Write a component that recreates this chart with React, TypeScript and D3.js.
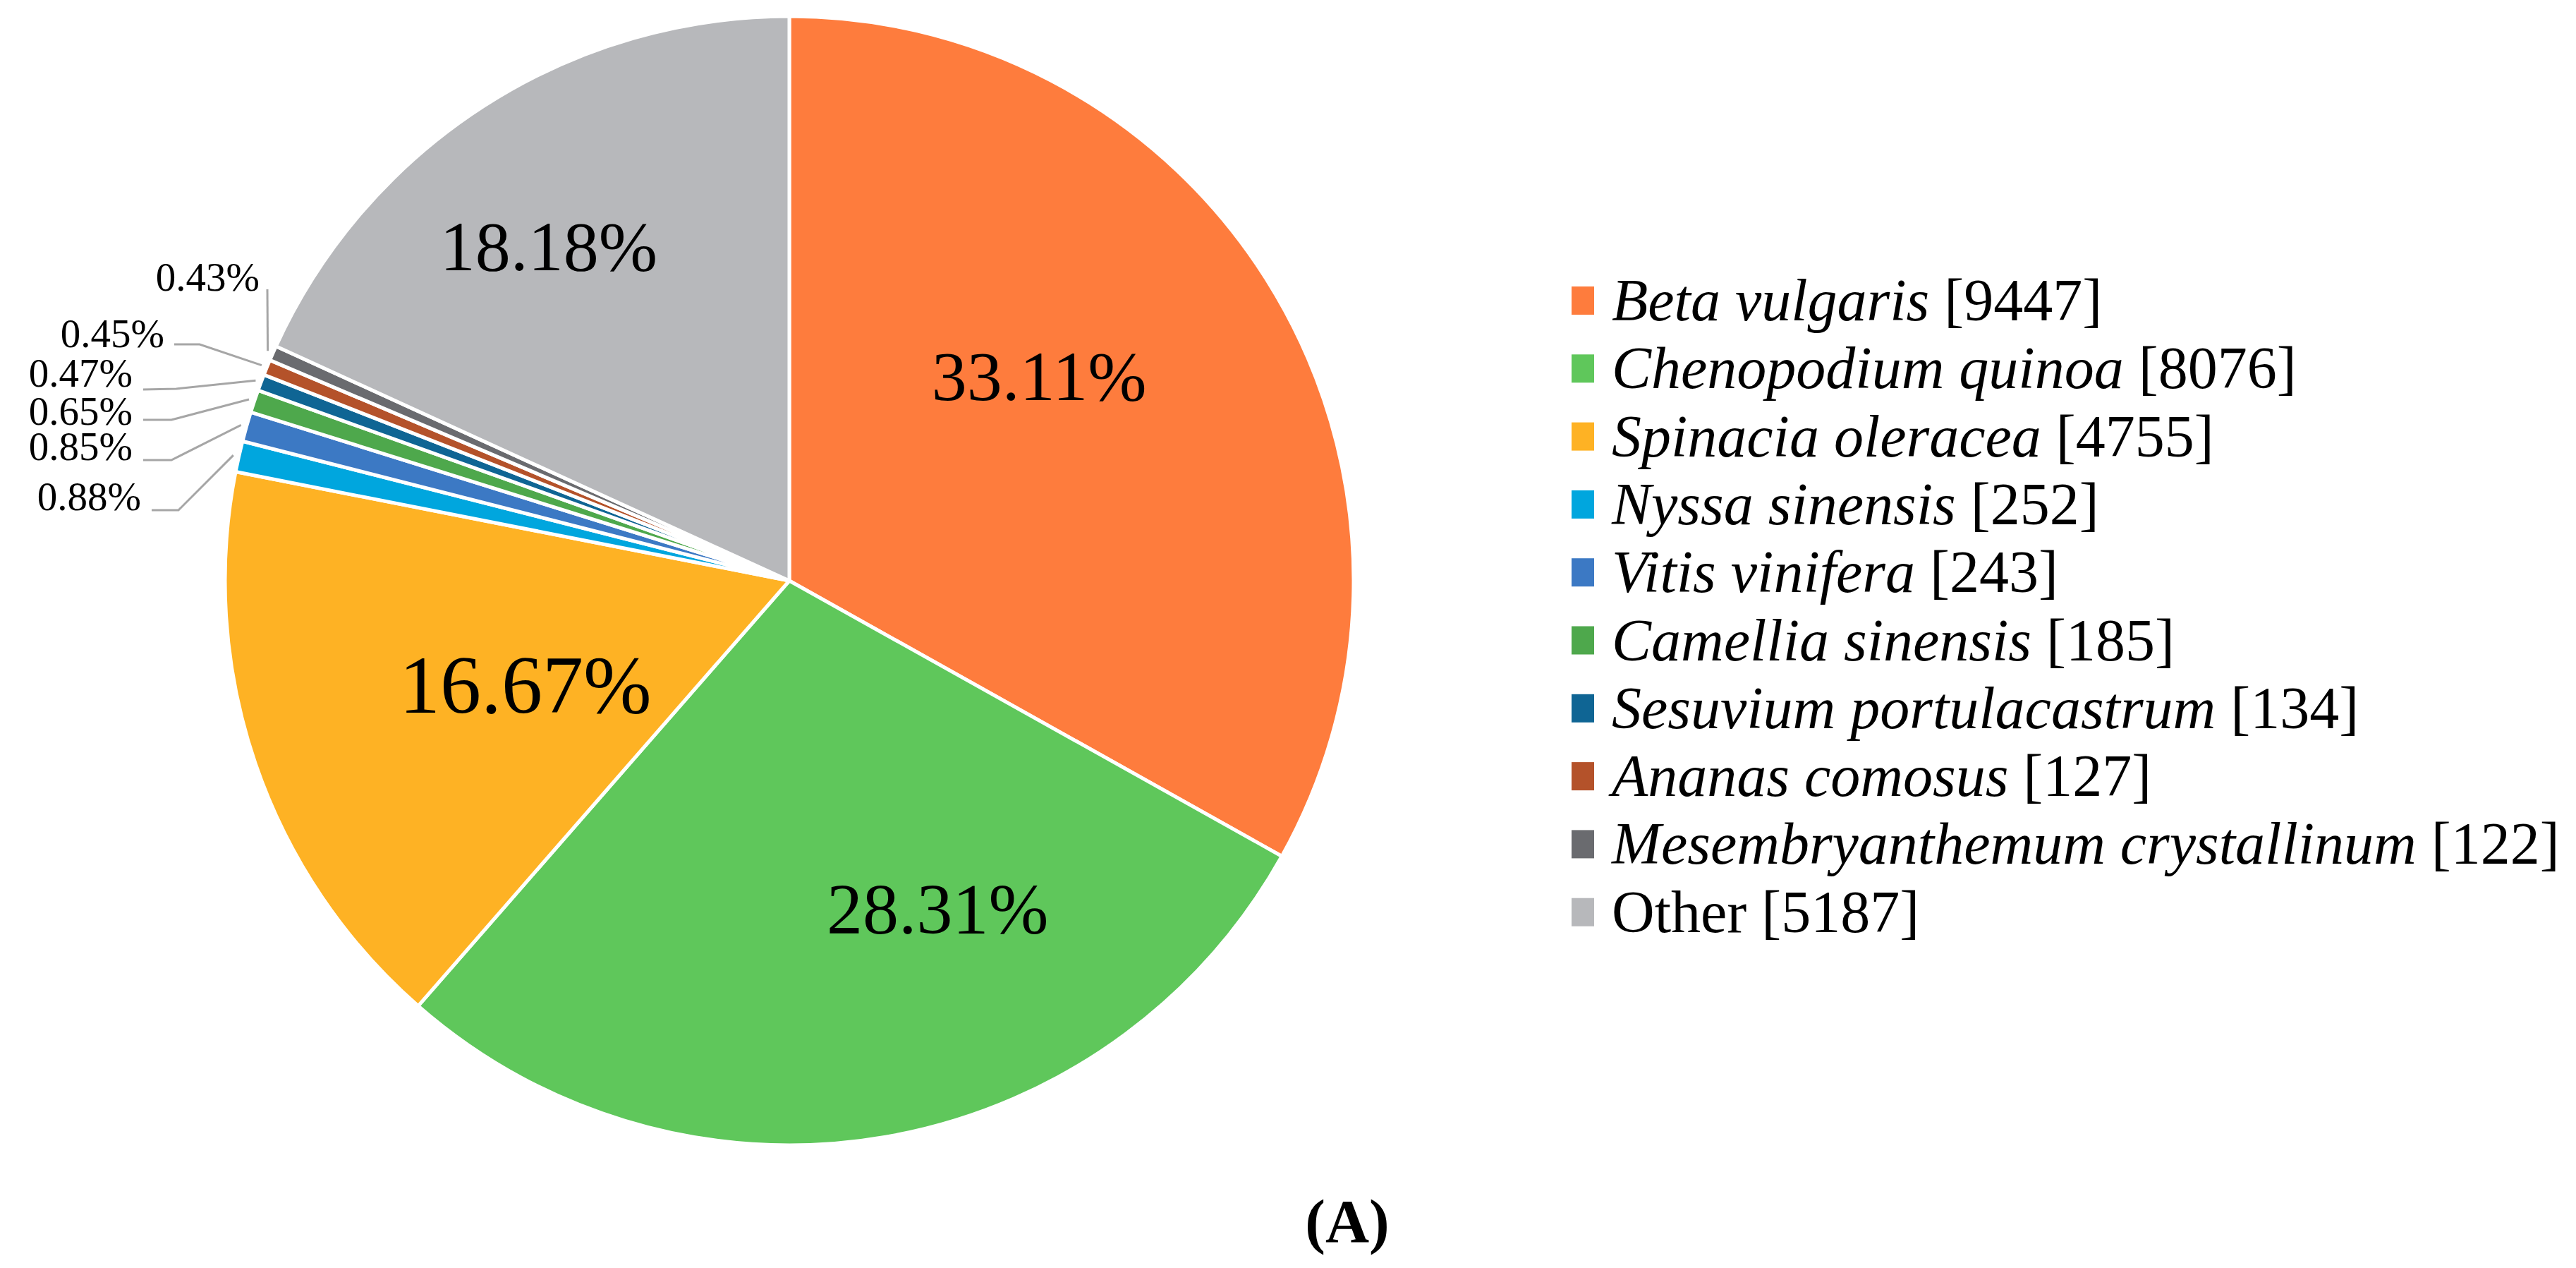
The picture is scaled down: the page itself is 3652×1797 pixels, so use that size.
import React from "react";
import * as d3 from "d3";

// ---- data ----
const categories = [
  "Beta vulgaris",
  "Chenopodium quinoa",
  "Spinacia oleracea",
  "Nyssa sinensis",
  "Vitis vinifera",
  "Camellia sinensis",
  "Sesuvium portulacastrum",
  "Ananas comosus",
  "Mesembryanthemum crystallinum",
  "Other",
];
const counts = [9447, 8076, 4755, 252, 243, 185, 134, 127, 122, 5187];
const italicName = [true, true, true, true, true, true, true, true, true, false];
const colors = [
  "#FE7C3D",
  "#5FC75B",
  "#FEB224",
  "#00A6DE",
  "#3C79C4",
  "#4EA84C",
  "#0F6594",
  "#B4522A",
  "#6A6B6F",
  "#B7B8BB",
];
const figureTag = "(A)";

// ---- layout (not data) ----
const W = 3652;
const H = 1797;
const CX = 1119;
const CY = 823;
const R = 800;
const FONT = '"Liberation Serif", "Times New Roman", Times, serif';

// big labels: radius fraction and angle offset (deg) relative to slice mid angle, font size
const bigLabelLayout: Record<number, { rf: number; da: number; fs: number }> = {
  0: { rf: 0.572, da: -8.9, fs: 100 },
  1: { rf: 0.638, da: -14.5, fs: 102 },
  2: { rf: 0.503, da: -2.7, fs: 116 },
  9: { rf: 0.73, da: -3.0, fs: 100 },
};

// small labels: text end point and leader-line start points
const smallLabelLayout: Record<number, { tx: number; ty: number; pts: [number, number][] }> = {
  3: { tx: 200, ty: 723, pts: [[215, 723], [253, 723]] },
  4: { tx: 188, ty: 652, pts: [[203, 652], [243, 652]] },
  5: { tx: 188, ty: 602, pts: [[203, 595], [243, 595]] },
  6: { tx: 188, ty: 548, pts: [[203, 552], [250, 551]] },
  7: { tx: 233, ty: 492, pts: [[247, 488], [283, 488]] },
  8: { tx: 368, ty: 412, pts: [[379, 410]] },
};

const legendLayout = { sqX: 2228, sqW: 32, sqH: 40, textX: 2285, y0: 454, step: 96.3, fs: 84 };

export default function App() {
  const total = d3.sum(counts);
  const pie = d3
    .pie<number>()
    .sort(null)
    .value((d) => d);
  const arcs = pie(counts);
  const arcGen = d3.arc<d3.PieArcDatum<number>>().innerRadius(0).outerRadius(R);
  const pct = (v: number) => ((v / total) * 100).toFixed(2) + "%";
  const line = d3.line<[number, number]>();

  const polar = (a: number, r: number): [number, number] => [
    CX + r * Math.sin(a),
    CY - r * Math.cos(a),
  ];

  return (
    <svg
      width={W}
      height={H}
      viewBox={`0 0 ${W} ${H}`}
      style={{ position: "absolute", left: 0, top: 0, background: "#fff" }}
      fontFamily={FONT}
    >
      <rect x={0} y={0} width={W} height={H} fill="#fff" />
      <g transform={`translate(${CX},${CY})`}>
        {arcs.map((a, i) => (
          <path key={i} d={arcGen(a) || ""} fill={colors[i]} stroke="#fff" strokeWidth={5} strokeLinejoin="round" />
        ))}
      </g>

      {/* big slice labels */}
      {arcs.map((a, i) => {
        const L = bigLabelLayout[i];
        if (!L) return null;
        const mid = (a.startAngle + a.endAngle) / 2 + (L.da * Math.PI) / 180;
        const [x, y] = polar(mid, L.rf * R);
        return (
          <text key={i} x={x} y={y} dy="0.34em" textAnchor="middle" fontSize={L.fs} fill="#000">
            {pct(counts[i])}
          </text>
        );
      })}

      {/* small slice labels with leader lines */}
      {arcs.map((a, i) => {
        const L = smallLabelLayout[i];
        if (!L) return null;
        const mid = (a.startAngle + a.endAngle) / 2;
        const end = polar(mid, R + 8);
        const pts: [number, number][] = [...L.pts, end];
        return (
          <g key={i}>
            <path d={line(pts) || ""} fill="none" stroke="#A6A6A6" strokeWidth={3} />
            <text x={L.tx} y={L.ty} textAnchor="end" fontSize={57} fill="#000">
              {pct(counts[i])}
            </text>
          </g>
        );
      })}

      {/* legend */}
      {categories.map((c, i) => {
        const by = legendLayout.y0 + i * legendLayout.step;
        return (
          <g key={c}>
            <rect
              x={legendLayout.sqX}
              y={by - 28 - legendLayout.sqH / 2}
              width={legendLayout.sqW}
              height={legendLayout.sqH}
              fill={colors[i]}
            />
            <text x={legendLayout.textX} y={by} fontSize={legendLayout.fs} fill="#000">
              <tspan fontStyle={italicName[i] ? "italic" : "normal"}>{c}</tspan>
              <tspan>{` [${counts[i]}]`}</tspan>
            </text>
          </g>
        );
      })}

      <text x={1910} y={1760} textAnchor="middle" fontSize={86} fontWeight="bold" fill="#000">
        {figureTag}
      </text>
    </svg>
  );
}
